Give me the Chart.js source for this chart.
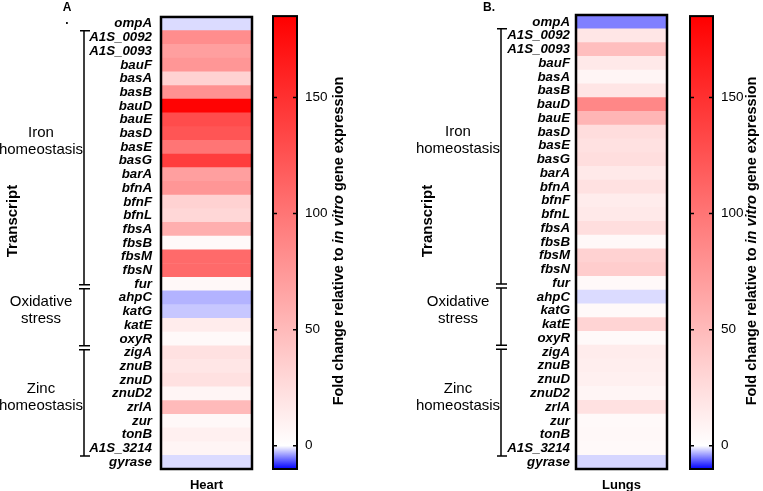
<!DOCTYPE html>
<html>
<head>
<meta charset="utf-8">
<script src="https://cdn.jsdelivr.net/npm/chart.js@4/dist/chart.umd.min.js"></script>
<style>
  body { margin: 0; background: #fff; }
  #wrap { position: relative; width: 763px; height: 491px; }
  #wrap canvas { position: absolute; top: 0; }
</style>
</head>
<body>
<div id="wrap">
  <canvas id="heatHeart" style="left:0px" width="260" height="491"></canvas>
  <canvas id="barHeart" style="left:260px" width="125" height="491"></canvas>
  <canvas id="heatLungs" style="left:385px" width="290" height="491"></canvas>
  <canvas id="barLungs" style="left:675px" width="88" height="491"></canvas>
</div>
<script>
const genes = ["ompA", "A1S_0092", "A1S_0093", "bauF", "basA", "basB", "bauD", "bauE", "basD", "basE",
  "basG", "barA", "bfnA", "bfnF", "bfnL", "fbsA", "fbsB", "fbsM", "fbsN", "fur",
  "ahpC", "katG", "katE", "oxyR", "zigA", "znuB", "znuD", "znuD2", "zrlA", "zur",
  "tonB", "A1S_3214", "gyrase"];

// fold change vs in vitro
const heartFold = [-1.4, 83, 70, 76, 33, 80, 183, 130, 123, 100,
  141, 70, 76, 33, 29, 58, 4, 108, 108, 5,
  -3, -2.2, 14, 4, 22, 18, 22, 7, 50, 5,
  11, 7, -1.4];
const lungFold = [-5, 18, 47, 16, 7, 19, 87, 54, 25, 22,
  24, 16, 22, 14, 16, 24, 5, 33, 36, 4,
  -1.4, 4, 31, 4, 14, 12, 11, 7, 22, 4,
  5, 4, -1.6];

const groups = [
  { lines: ["Iron", "homeostasis"], at: 8.6 },
  { lines: ["Oxidative", "stress"], at: 20.95 },
  { lines: ["Zinc", "homeostasis"], at: 27.3 }
];
const bracketTop = 0.5, bracketBottom = 31.55;
const bracketBreaks = [19.2, 23.65];

const cbarMin = -10, cbarMax = 185;
const cbarTicks = [0, 50, 100, 150];

const FONT = "'Liberation Sans', Arial, Helvetica, sans-serif";

function foldColor(v) {
  if (v >= 0) {
    const t = Math.min(v / cbarMax, 1);
    const c = Math.round(255 * (1 - t));
    return `rgb(255,${c},${c})`;
  }
  const t = Math.min(-v / -cbarMin, 1);
  const c = Math.round(255 * (1 - t));
  return `rgb(${c},${c},255)`;
}

// frame, bracket, group names and panel labels around a heatmap
const heatExtras = {
  id: 'heatExtras',
  afterDatasetsDraw(chart, args, o) {
    const { ctx, chartArea: a, scales: { y } } = chart;
    ctx.save();
    ctx.strokeStyle = '#000';
    ctx.lineWidth = 2.5;
    ctx.strokeRect(a.left, a.top, a.right - a.left, a.bottom - a.top);

    // bracket
    const bx = o.bracketX;
    const yTop = y.getPixelForValue(bracketTop);
    const yBot = y.getPixelForValue(bracketBottom);
    ctx.lineWidth = 1.5;
    ctx.beginPath();
    ctx.moveTo(bx - 4, yTop); ctx.lineTo(bx + 6, yTop);
    ctx.moveTo(bx - 4, yBot); ctx.lineTo(bx + 6, yBot);
    let from = yTop;
    bracketBreaks.forEach(k => {
      const yb = y.getPixelForValue(k);
      ctx.moveTo(bx, from); ctx.lineTo(bx, yb - 2);
      ctx.moveTo(bx - 5, yb - 2); ctx.lineTo(bx + 6, yb - 2);
      ctx.moveTo(bx - 5, yb + 2); ctx.lineTo(bx + 6, yb + 2);
      from = yb + 2;
    });
    ctx.moveTo(bx, from); ctx.lineTo(bx, yBot);
    ctx.stroke();

    ctx.fillStyle = '#000';
    ctx.font = `15px ${FONT}`;
    ctx.textAlign = 'center';
    ctx.textBaseline = 'middle';
    groups.forEach(g => {
      const yc = y.getPixelForValue(g.at);
      ctx.fillText(g.lines[0], o.groupX, yc - 8.5);
      ctx.fillText(g.lines[1], o.groupX, yc + 8.5);
    });

    // axis title
    ctx.save();
    ctx.translate(o.titleX, 221);
    ctx.rotate(-Math.PI / 2);
    ctx.font = `bold 15px ${FONT}`;
    ctx.fillText('Transcript', 0, 0);
    ctx.restore();

    ctx.font = `bold 12px ${FONT}`;
    ctx.fillText(o.panel, o.panelX, 8);
    if (o.dot) ctx.fillText('.', o.panelX, 21);
    ctx.font = `bold 13px ${FONT}`;
    ctx.fillText(o.name, (a.left + a.right) / 2, 485);
    ctx.restore();
  }
};

function heatmap(id, values, left, padRight, opts) {
  return new Chart(document.getElementById(id), {
    type: 'bar',
    data: {
      labels: genes,
      datasets: [{
        data: values.map(() => [0, 1]),
        backgroundColor: c => foldColor(values[c.dataIndex]),
        barPercentage: 1,
        categoryPercentage: 1,
        borderWidth: 0
      }]
    },
    options: {
      indexAxis: 'y',
      responsive: false,
      animation: false,
      layout: { padding: { top: 15, bottom: 22, right: padRight, left: 0 } },
      plugins: { legend: { display: false }, tooltip: { enabled: false }, heatExtras: opts },
      scales: {
        x: { display: false, min: 0, max: 1 },
        y: {
          afterFit: s => { s.width = left; },
          grid: { display: false, drawTicks: false },
          border: { display: false },
          ticks: {
            autoSkip: false,
            padding: opts.labelPad,
            color: '#000',
            font: { family: FONT, size: 13.3, weight: 'bold', style: 'italic' }
          }
        }
      }
    },
    plugins: [heatExtras]
  });
}

// ticks inside the colour bar and the rotated title
const cbarExtras = {
  id: 'cbarExtras',
  afterDatasetsDraw(chart, args, o) {
    const { ctx, chartArea: a, scales: { y } } = chart;
    ctx.save();
    ctx.strokeStyle = '#000';
    ctx.lineWidth = 2;
    ctx.strokeRect(a.left, a.top, a.right - a.left, a.bottom - a.top);
    ctx.lineWidth = 1.5;
    ctx.beginPath();
    cbarTicks.forEach(v => {
      const py = y.getPixelForValue(v);
      ctx.moveTo(a.left, py); ctx.lineTo(a.left + 4, py);
      ctx.moveTo(a.right - 4, py); ctx.lineTo(a.right + 1, py);
    });
    ctx.stroke();

    const parts = [
      ['Fold change relative to ', 'normal'],
      ['in vitro', 'italic'],
      [' gene expression', 'normal']
    ];
    ctx.fillStyle = '#000';
    ctx.textBaseline = 'middle';
    ctx.textAlign = 'left';
    let total = 0;
    parts.forEach(p => {
      ctx.font = `${p[1]} bold 14.5px ${FONT}`;
      total += ctx.measureText(p[0]).width;
    });
    ctx.translate(o.titleX, 241);
    ctx.rotate(-Math.PI / 2);
    let x = -total / 2;
    parts.forEach(p => {
      ctx.font = `${p[1]} bold 14.5px ${FONT}`;
      ctx.fillText(p[0], x, 0);
      x += ctx.measureText(p[0]).width;
    });
    ctx.restore();
  }
};

function colorbar(id, padLeft, axisWidth, titleX) {
  return new Chart(document.getElementById(id), {
    type: 'bar',
    data: {
      labels: [''],
      datasets: [{
        data: [[cbarMin, cbarMax]],
        barPercentage: 1,
        categoryPercentage: 1,
        borderWidth: 0,
        backgroundColor: c => {
          const { chart } = c;
          if (!chart.chartArea) return '#fff';
          const y = chart.scales.y;
          const g = chart.ctx.createLinearGradient(0, y.getPixelForValue(cbarMin), 0, y.getPixelForValue(cbarMax));
          g.addColorStop(0, foldColor(cbarMin));
          g.addColorStop((0 - cbarMin) / (cbarMax - cbarMin), foldColor(0));
          g.addColorStop(1, foldColor(cbarMax));
          return g;
        }
      }]
    },
    options: {
      responsive: false,
      animation: false,
      layout: { padding: { top: 15, bottom: 22, left: padLeft, right: 0 } },
      plugins: { legend: { display: false }, tooltip: { enabled: false }, cbarExtras: { titleX } },
      scales: {
        x: { display: false },
        y: {
          position: 'right',
          min: cbarMin,
          max: cbarMax,
          afterFit: s => { s.width = axisWidth; },
          afterBuildTicks: s => { s.ticks = cbarTicks.map(v => ({ value: v })); },
          grid: { display: false, drawTicks: false },
          border: { display: false },
          ticks: {
            padding: 8,
            color: '#000',
            font: { family: FONT, size: 13.5 }
          }
        }
      }
    },
    plugins: [cbarExtras]
  });
}

heatmap('heatHeart', heartFold, 161, 8,
  { labelPad: 9, bracketX: 84, groupX: 41, titleX: 13, panel: 'A', panelX: 67, dot: true, name: 'Heart' });
colorbar('barHeart', 13, 88, 79);
heatmap('heatLungs', lungFold, 191, 8,
  { labelPad: 6, bracketX: 116, groupX: 73, titleX: 43, panel: 'B.', panelX: 104, dot: false, name: 'Lungs' });
colorbar('barLungs', 15, 50, 77);
</script>
</body>
</html>
